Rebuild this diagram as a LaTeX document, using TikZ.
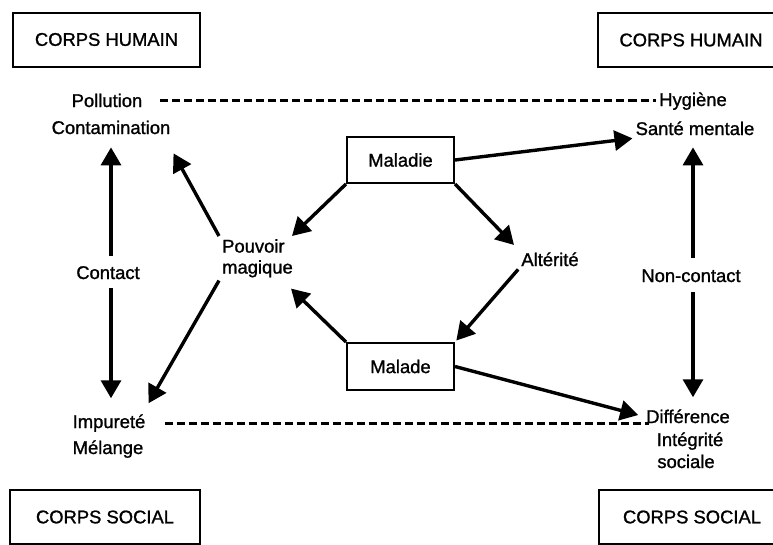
\documentclass[tikz,border=0pt]{standalone}
\usepackage{fontspec}
\setmainfont{Liberation Sans}[BoldFont=Liberation Sans,BoldFeatures={FakeBold=1.2}]
\usetikzlibrary{arrows.meta}
\begin{document}
\begin{tikzpicture}[x=1pt,y=-1pt]
\tikzstyle{every node}=[font=\fontsize{18.4}{21}\selectfont\bfseries,inner sep=3pt]
\tikzstyle{corps}=[draw,line width=2pt,minimum width=187pt,minimum height=54pt]
\tikzstyle{etat}=[draw,line width=2pt,minimum width=107pt,minimum height=46pt]
\tikzstyle{lbl}=[anchor=base]
\tikzstyle{arr}=[line width=3.4pt,-{Triangle[length=18pt,width=20pt]}]
\tikzstyle{lien}=[line width=2.8pt,dash pattern=on 8pt off 4pt]
\useasboundingbox (0,0) rectangle (773,544);
\node[corps] (humainG) at (106.5,39.5) {CORPS HUMAIN};
\node[corps] (humainD) at (691,40) {CORPS HUMAIN};
\node[corps,minimum width=190pt] (socialG) at (105,517) {CORPS SOCIAL};
\node[corps] (socialD) at (692,517) {CORPS SOCIAL};
\node[lbl] (pollut) at (107,107) {Pollution};
\node[lbl] (contam) at (111,134) {Contamination};
\node[lbl] (hyg) at (693,106) {Hygiène};
\node[lbl] (sante) at (695,135) {Santé mentale};
\node[lbl] (contact) at (108,279) {Contact};
\node[lbl] (noncontact) at (691,282) {Non-contact};
\node[lbl] (impur) at (109,428) {Impureté};
\node[lbl] (melange) at (108,454) {Mélange};
\node[lbl] (diff) at (688,423) {Différence};
\node[lbl] (integ) at (690,446) {Intégrité};
\node[lbl] (sociale) at (686,468) {sociale};
\node[lbl] (alterite) at (550,266) {Altérité};
\node[anchor=north west,align=left] (pouvoir) at (219,236) {Pouvoir\\magique};
\node[etat] (maladie) at (400.5,160) {Maladie};
\node[etat,minimum height=47pt] (malade) at (400.5,366.5) {Malade};
\draw[lien,shorten <=15pt] (pollut.east) -- (pollut.east -| hyg.west);
\draw[lien,shorten <=16pt,shorten >=-6pt] (impur.east) -- (impur.east -| diff.west);
\draw[arr,shorten <=7pt,shorten >=10pt] (contam.south |- contact.north) -- (contam.south);
\draw[arr,shorten <=6pt,shorten >=13pt] (contam.south |- contact.south) -- (contam.south |- impur.north);
\draw[arr,shorten <=8pt,shorten >=9pt] (hyg |- noncontact.north) -- (hyg |- sante.south);
\draw[arr,shorten <=7pt,shorten >=9pt] (hyg |- noncontact.south) -- (hyg |- diff.north);
\draw[arr] (maladie.east) -- (sante.south west);
\draw[arr] (maladie.south west) -- ([xshift=-4pt]pouvoir.north east);
\draw[arr,shorten >=6pt] (maladie.south east) -- (alterite.north west);
\draw[arr,shorten >=2pt] (alterite.south west) -- (malade.north east);
\draw[arr] (malade.north west) -- ([xshift=-5pt,yshift=-8pt]pouvoir.south east);
\draw[arr,shorten >=5pt] (malade.east) -- (diff.west);
\draw[arr] (pouvoir.north west) -- ([yshift=-16pt]contam.south east);
\draw[arr] (pouvoir.south west) -- ([yshift=8pt]impur.north east);
\end{tikzpicture}
\end{document}
